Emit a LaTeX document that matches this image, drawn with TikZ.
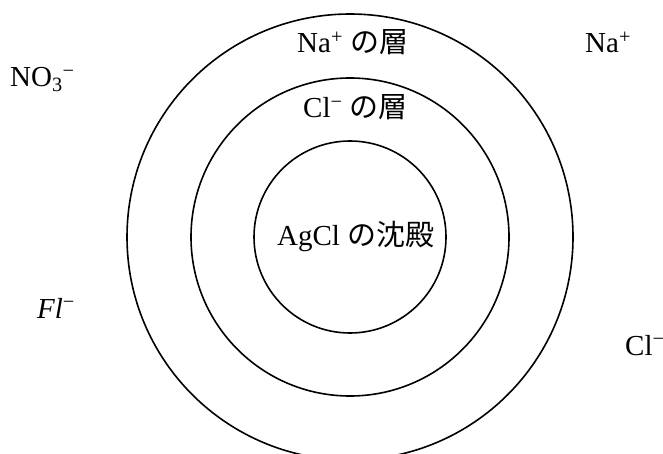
\documentclass[tikz,border=0pt]{standalone}
\usepackage{fontspec}
\setmainfont{Liberation Serif}
\newfontfamily\cjk{Noto Sans CJK JP}
\newcommand{\mns}{\textsuperscript{−}}
\newcommand{\pls}{\textsuperscript{+}}
\begin{document}
\begin{tikzpicture}[x=1pt,y=-1pt,
  ring/.style={circle,draw,line width=1.6pt,inner sep=0pt},
  lbl/.style={anchor=base west,inner sep=0pt,font=\fontsize{29}{34}\selectfont}]
\clip (0,0) rectangle (663,454);
\useasboundingbox (0,0) rectangle (663,454);
\node[ring,minimum size=446pt] (outer) at (350,237) {};
\node[ring,minimum size=318pt] (middle) at (350,237) {};
\node[ring,minimum size=192pt] (inner) at (350,237) {};
\node[lbl] (nalayer) at (297,53) {Na\pls\ {\cjk の層}};
\node[lbl] (cllayer) at (303,118) {Cl\mns\ {\cjk の層}};
\node[lbl] (agcl) at (277,245) {AgCl {\cjk の沈殿}};
\node[lbl] (na) at (585,53) {Na\pls};
\node[lbl] (no3) at (10,87) {NO\textsubscript{3}\mns};
\node[lbl] (fl) at (37,318) {\textit{Fl}\mns};
\node[lbl] (cl) at (625,355) {Cl\mns};
\end{tikzpicture}
\end{document}
